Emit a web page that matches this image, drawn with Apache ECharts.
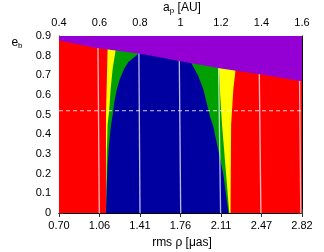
<!DOCTYPE html>
<html><head><meta charset="utf-8">
<script src="https://cdn.jsdelivr.net/npm/echarts@6/dist/echarts.min.js"></script>
<style>html,body{margin:0;padding:0;background:#fff}#c{width:324px;height:252px}</style>
</head><body><div id="c"></div>
<script>
// tick labels
var apTicks = ['0.4','0.6','0.8','1','1.2','1.4','1.6'];
var rhoTicks = ['0.70','1.06','1.41','1.76','2.11','2.47','2.82'];
var ebTicks = ['0','0.1','0.2','0.3','0.4','0.5','0.6','0.7','0.8','0.9'];

// region boundaries: [a_p, e_b]
var leftRedYellow = [[0.632,0],[0.632,0.5],[0.640,0.835],[0.642,0.9]];
var leftYellowGreen = [[0.632,0],[0.636,0.3],[0.640,0.449],[0.647,0.512],[0.655,0.631],[0.665,0.733],[0.680,0.83],[0.690,0.9]];
var leftGreenBlue = [[0.632,0],[0.636,0.144],[0.640,0.246],[0.647,0.348],[0.657,0.447],[0.667,0.512],[0.673,0.563],[0.686,0.631],[0.701,0.682],[0.722,0.733],[0.742,0.767],[0.792,0.81],[0.85,0.85],[0.9,0.9]];
var rightBlueGreen = [[1.237,0],[1.211,0.2],[1.162,0.44],[1.146,0.49],[1.129,0.56],[1.113,0.628],[1.088,0.696],[1.052,0.765],[1.0,0.85],[0.95,0.9]];
var rightGreenYellow = [[1.241,0],[1.205,0.45],[1.196,0.6],[1.190,0.75],[1.190,0.9]];
var rightYellowRed = [[1.247,0],[1.250,0.45],[1.261,0.63],[1.272,0.73],[1.280,0.9]];
var purpleEdge = [[0.4,0.877],[0.578,0.840],[0.825,0.806],[1.0,0.772],[1.2,0.735],[1.4,0.704],[1.6,0.670]];
var fullRect = [[0.4,0],[0.4,0.9],[1.6,0.9],[1.6,0]];

// white lines: [a_p at e=0, a_p at e=0.9]
var whiteLines = [[0.599,0.592],[0.800,0.794],[1.001,0.993],[1.198,1.186],[1.397,1.387],[1.594,1.586]];
var dashedE = [0.52];

function polyPts(left, right){
  return left.slice().concat(right.slice().reverse());
}
function polySeries(pts, color, z){
  return {type:'custom', xAxisIndex:0, yAxisIndex:0, z:z, clip:true, silent:true,
    data:[0],
    renderItem:function(params, api){
      return {type:'polygon', shape:{points:pts.map(function(p){return api.coord(p);})}, style:{fill:color}};
    }};
}
var purplePts = purpleEdge.concat([[1.6,0.9],[0.4,0.9]]);

var axisLbl = {color:'#000', fontFamily:'Liberation Sans, Arial, sans-serif', fontSize:11};
var tick = {show:true, inside:true, length:4, lineStyle:{color:'#333', width:1}};
var aline = {show:true, lineStyle:{color:'#000', width:1}};

var chart = echarts.init(document.getElementById('c'), null, {renderer:'canvas'});
chart.setOption({
  animation:false,
  grid:{left:59, right:22, top:36, bottom:39},
  xAxis:[
    {type:'value', position:'bottom', min:0.4, max:1.6, interval:0.2, axisLine:aline, axisTick:tick, splitLine:{show:false},
     axisLabel:Object.assign({margin:7, formatter:function(v){return rhoTicks[Math.round((v-0.4)/0.2)];}}, axisLbl)},
    {type:'value', position:'top', min:0.4, max:1.6, interval:0.2, axisLine:aline, axisTick:tick, splitLine:{show:false},
     axisLabel:Object.assign({margin:8, formatter:function(v){return apTicks[Math.round((v-0.4)/0.2)];}}, axisLbl)}
  ],
  yAxis:[
    {type:'value', position:'left', min:0, max:0.9, interval:0.1, axisLine:aline, axisTick:tick, splitLine:{show:false},
     axisLabel:Object.assign({margin:8, formatter:function(v){return ebTicks[Math.round(v/0.1)];}}, axisLbl)},
    {type:'value', position:'right', min:0, max:0.9, interval:0.1, axisLine:aline, axisTick:tick, splitLine:{show:false},
     axisLabel:{show:false}}
  ],
  series:[
    polySeries(fullRect, '#ff0000', 1),
    polySeries(polyPts(leftRedYellow, rightYellowRed), '#ffff00', 2),
    polySeries(polyPts(leftYellowGreen, rightGreenYellow), '#00a000', 3),
    polySeries(polyPts(leftGreenBlue, rightBlueGreen), '#0000a0', 4),
    {type:'custom', xAxisIndex:0, yAxisIndex:0, z:5, clip:true, silent:true, data:whiteLines,
     renderItem:function(params, api){
       var p0 = api.coord([api.value(0),0]);
       var p1 = api.coord([api.value(1),0.9]);
       return {type:'line', shape:{x1:p0[0],y1:p0[1],x2:p1[0],y2:p1[1]}, style:{stroke:'rgba(255,255,255,0.72)', lineWidth:1.3}};
     }},
    {type:'line', xAxisIndex:0, yAxisIndex:0, z:6, silent:true, symbol:'none',
     data:[[0.4,dashedE[0]],[1.6,dashedE[0]]],
     lineStyle:{color:'rgba(255,255,255,0.8)', width:1, type:[4,3]}},
    polySeries(purplePts, '#9400d3', 7)
  ],
  graphic:[
    {type:'text', x:182, y:8, z:100, style:{text:'{a|a}{s|p}{a| [AU]}', textAlign:'center', textVerticalAlign:'middle',
      rich:{a:{fontSize:12, fontFamily:'Liberation Sans, Arial, sans-serif', fill:'#000'}, s:{fontSize:8, fontFamily:'Liberation Sans, Arial, sans-serif', fill:'#000', padding:[6,0,0,0]}}}},
    {type:'text', x:182, y:243, z:100, style:{text:'rms ρ [μas]', textAlign:'center', textVerticalAlign:'middle',
      font:'12px Liberation Sans, Arial, sans-serif', fill:'#000'}},
    {type:'text', x:17, y:43, z:100, style:{text:'{a|e}{s|b}', textAlign:'center', textVerticalAlign:'middle',
      rich:{a:{fontSize:12, fontFamily:'Liberation Sans, Arial, sans-serif', fill:'#000'}, s:{fontSize:8, fontFamily:'Liberation Sans, Arial, sans-serif', fill:'#000', padding:[6,0,0,0]}}}}
  ]
});
</script></body></html>
